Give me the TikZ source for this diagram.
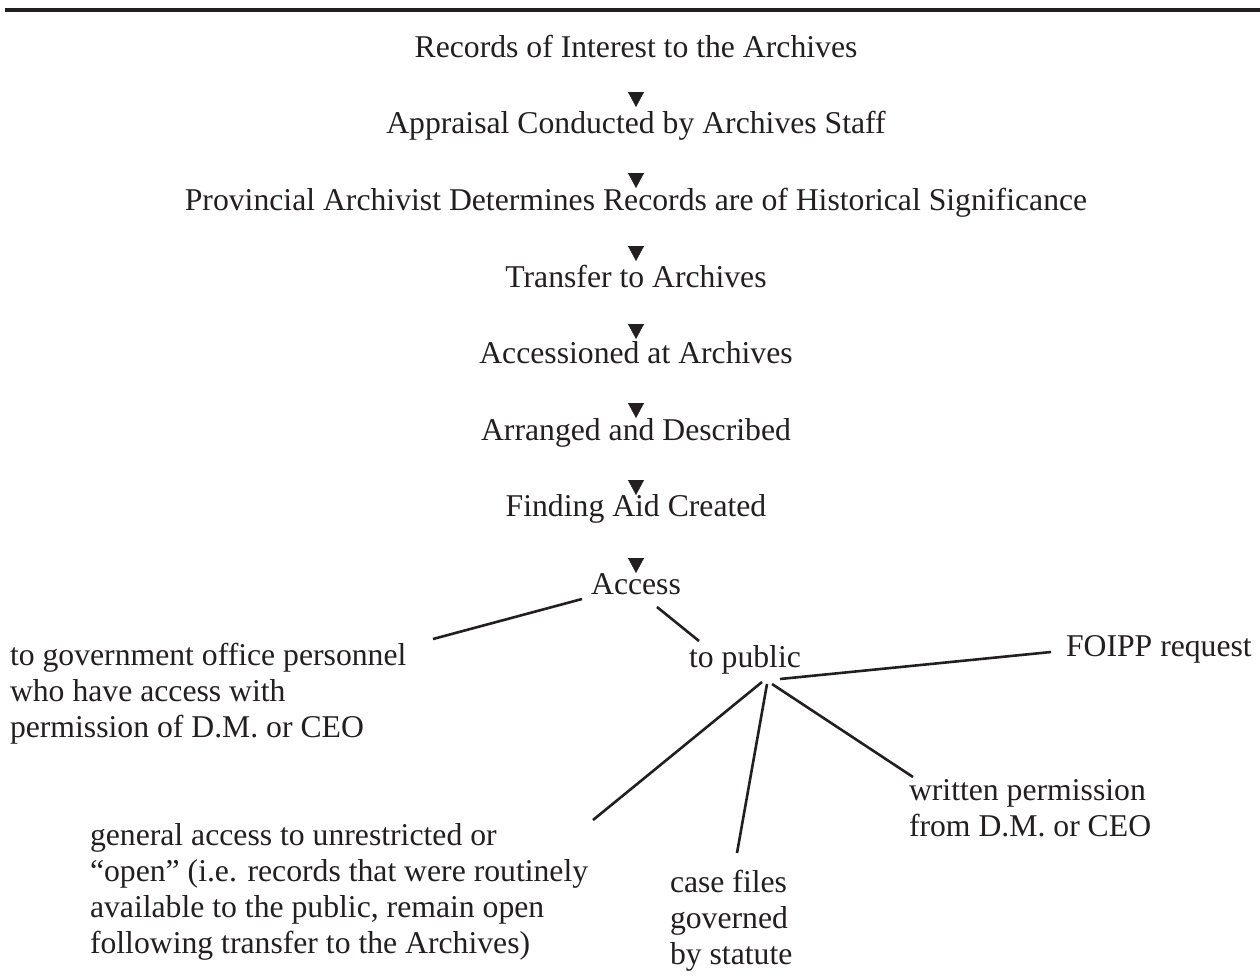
\documentclass[tikz,border=0pt]{standalone}
\usepackage{fontspec}
\setmainfont{Liberation Serif}
\usetikzlibrary{arrows.meta}
\definecolor{ink}{RGB}{35,31,32}
\begin{document}
\begin{tikzpicture}[x=1pt,y=-1pt,
  every node/.style={inner sep=0pt, outer sep=0pt, text=ink, font=\fontsize{31.7}{36}\selectfont},
  lbl/.style={anchor=base},
  multi/.style={align=left, anchor=base west},
  flow/.style={draw=ink, line width=0.4pt, -{Triangle[length=15pt,width=16pt]}},
  link/.style={draw=ink, line width=2.6pt},
  rule/.style={draw=ink, line width=3.5pt}]
\useasboundingbox (0,0) rectangle (1260,975);
\fill[white] (0,0) rectangle (1260,975);
\coordinate (r1) at (5,10);
\coordinate (r2) at (1260,10);
\draw[rule] (r1) -- (r2);

\node[lbl] (n1) at (636,57) {Records of Interest to the Archives};
\node[lbl] (n2) at (636,133) {Appraisal Conducted by Archives Staff};
\node[lbl] (n3) at (636,210) {Provincial Archivist Determines Records are of Historical Significance};
\node[lbl] (n4) at (636,287) {Transfer to Archives};
\node[lbl] (n5) at (636,363) {Accessioned at Archives};
\node[lbl] (n6) at (636,440) {Arranged and Described};
\node[lbl] (n7) at (636,516) {Finding Aid Created};
\node[lbl] (n8) at (636,594) {Access};

\foreach \i/\y in {2/107,3/188,4/261,5/339,6/418,7/495,8/573}{
  \coordinate (s\i) at (636,\y-15);
  \coordinate (t\i) at (636,\y);
  \draw[flow] (s\i) -- (t\i);
}

\node[multi] (gov) at (10,737) {to government office personnel\\who have access with\\permission of D.M. or CEO};
\node[lbl] (pub) at (745,667) {to public};
\node[anchor=base west] (foi) at (1066,656) {FOIPP request};
\node[multi] (gen) at (90,953) {general access to unrestricted or\\“open” (i.e. records that were routinely\\available to the public, remain open\\following transfer to the Archives)};
\node[multi] (cas) at (670,964) {case files\\governed\\by statute};
\node[multi] (wri) at (909,836) {written permission\\from D.M. or CEO};

% connector end points
\coordinate (a1) at (582,599);
\coordinate (g1) at (433,639);
\coordinate (a2) at (657,607);
\coordinate (p0) at (699,641);
\coordinate (p1) at (780,679);
\coordinate (f1) at (1051,652);
\coordinate (p2) at (762,682);
\coordinate (e1) at (593,820);
\coordinate (p3) at (767,684);
\coordinate (c1) at (737,853);
\coordinate (p4) at (772,684);
\coordinate (w1) at (913,777);

\draw[link] (a1) -- (g1);
\draw[link] (a2) -- (p0);
\draw[link] (p1) -- (f1);
\draw[link] (p2) -- (e1);
\draw[link] (p3) -- (c1);
\draw[link] (p4) -- (w1);
\end{tikzpicture}
\end{document}
